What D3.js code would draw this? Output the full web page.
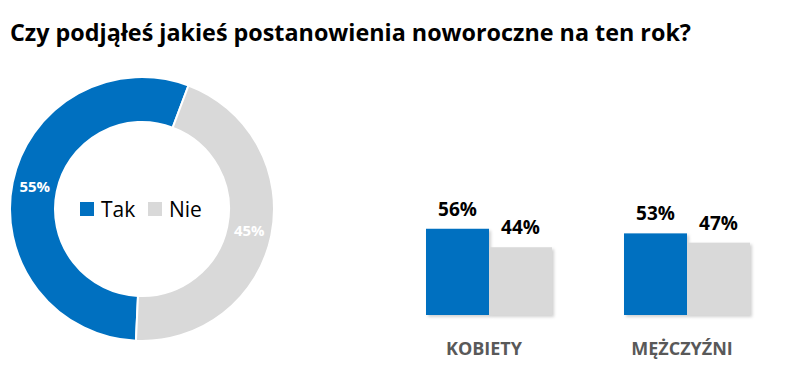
<!DOCTYPE html>
<html>
<head>
<meta charset="utf-8">
<script src="https://cdn.jsdelivr.net/npm/d3@7"></script>
<style>
  body { margin: 0; background: #fff; }
  text { font-family: "Open Sans", "Noto Sans", sans-serif; }
</style>
</head>
<body>
<svg id="chart" width="793" height="385"></svg>
<script>
// Data
const answers = ["Tak", "Nie"];
const totalValues = [55, 45];
const groups = ["KOBIETY", "MĘŻCZYŹNI"];
const takValues = [56, 53];
const nieValues = [44, 47];
const colors = ["#0070C0", "#D9D9D9"];

const width = 793;
const height = 385;
const svg = d3.select("#chart");

// Title
svg.append("text")
    .attr("x", 10)
    .attr("y", 41)
    .attr("font-size", 24)
    .attr("font-weight", "bold")
    .attr("textLength", 681)
    .attr("lengthAdjust", "spacingAndGlyphs")
    .attr("fill", "#000")
    .text("Czy podjąłeś jakieś postanowienia noworoczne na ten rok?");

// Soft shadow for the bars
const defs = svg.append("defs");
const shadow = defs.append("filter").attr("id", "shadow")
    .attr("x", "-10%").attr("y", "-10%").attr("width", "130%").attr("height", "130%");
shadow.append("feDropShadow")
    .attr("dx", 2).attr("dy", 2).attr("stdDeviation", 1.5)
    .attr("flood-color", "#000").attr("flood-opacity", 0.18);

// Donut (first slice starts just past the bottom, as in the source)
const cx = 142, cy = 209;
const outerR = 132, innerR = 87;
const start = Math.PI + 0.046;
const pie = d3.pie().sort(null).startAngle(start).endAngle(start + 2 * Math.PI);
const arc = d3.arc().innerRadius(innerR).outerRadius(outerR);
const labelArc = d3.arc().innerRadius((innerR + outerR) / 2).outerRadius((innerR + outerR) / 2);

const donut = svg.append("g").attr("transform", `translate(${cx},${cy})`);
const arcs = pie(totalValues);
donut.selectAll("path")
    .data(arcs)
    .enter().append("path")
    .attr("d", arc)
    .attr("fill", (d, i) => colors[i])
    .attr("stroke", "#fff")
    .attr("stroke-width", 2);

donut.selectAll("text.pct")
    .data(arcs)
    .enter().append("text")
    .attr("class", "pct")
    .attr("x", d => labelArc.centroid(d)[0])
    .attr("y", d => labelArc.centroid(d)[1])
    .attr("dy", "0.35em")
    .attr("text-anchor", "middle")
    .attr("font-size", 15)
    .attr("font-weight", "bold")
    .attr("fill", "#fff")
    .text(d => d.data + "%");

// Legend inside the hole
const legend = svg.append("g");
const legendX = [80, 148];
answers.forEach((a, i) => {
    legend.append("rect")
        .attr("x", legendX[i]).attr("y", 202)
        .attr("width", 14).attr("height", 14)
        .attr("fill", colors[i]);
    legend.append("text")
        .attr("x", legendX[i] + 21).attr("y", 217)
        .attr("font-size", 21)
        .attr("fill", "#000")
        .text(a);
});

// Grouped bars
const x0 = d3.scaleBand().domain(groups).range([390, 786]);
const barW = 63;
const x1 = d3.scaleBand().domain(answers)
    .range([x0.bandwidth() / 2 - barW, x0.bandwidth() / 2 + barW]);
const y = d3.scaleLinear().domain([0, 100]).range([315, 161]);

const barData = groups.map((g, i) => ({
    group: g,
    values: [
        { key: "Tak", value: takValues[i] },
        { key: "Nie", value: nieValues[i] }
    ]
}));

const gGroups = svg.selectAll("g.group")
    .data(barData)
    .enter().append("g")
    .attr("class", "group")
    .attr("transform", d => `translate(${x0(d.group)},0)`);

gGroups.selectAll("rect")
    .data(d => d.values)
    .enter().append("rect")
    .attr("x", d => x1(d.key))
    .attr("y", d => y(d.value))
    .attr("width", x1.bandwidth())
    .attr("height", d => y(0) - y(d.value))
    .attr("fill", (d, i) => colors[i])
    .attr("filter", "url(#shadow)");

gGroups.selectAll("text.val")
    .data(d => d.values)
    .enter().append("text")
    .attr("class", "val")
    .attr("x", d => x1(d.key) + x1.bandwidth() / 2)
    .attr("y", d => y(d.value) - 13)
    .attr("text-anchor", "middle")
    .attr("font-size", 19)
    .attr("font-weight", "bold")
    .attr("fill", "#000")
    .text(d => d.value + "%");

gGroups.append("text")
    .attr("x", x0.bandwidth() / 2 - 5)
    .attr("y", 355)
    .attr("text-anchor", "middle")
    .attr("font-size", 18)
    .attr("font-weight", "bold")
    .attr("fill", "#595959")
    .text(d => d.group);
</script>
</body>
</html>
